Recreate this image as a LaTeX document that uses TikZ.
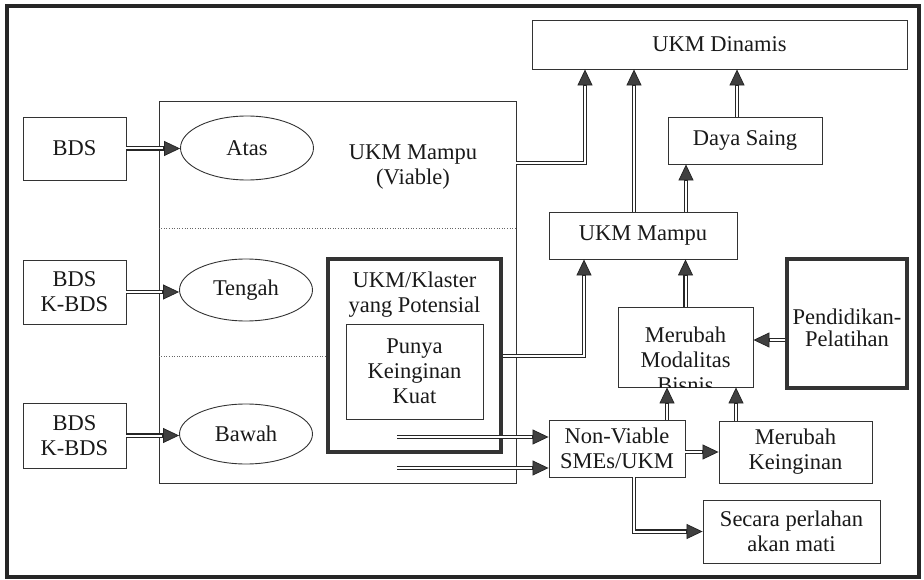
\documentclass[tikz,border=0pt]{standalone}
\usepackage{fontspec}
\setmainfont{Liberation Serif}
\usetikzlibrary{arrows.meta,calc,shapes.geometric}
\begin{document}
\begin{tikzpicture}[x=1pt,y=-1pt,
  box/.style={draw=black!80, line width=0.9pt, inner sep=0pt, align=center,
    font=\fontsize{22.5}{25}\selectfont, text=black!90},
  thickbox/.style={box, line width=3.5pt},
  ell/.style={box, ellipse},
  txt/.style={inner sep=0pt, align=center, font=\fontsize{22.5}{25}\selectfont, text=black!90},
  dbl/.style={draw=black!85, line width=0.8pt, line join=miter,
    -{Triangle[length=16pt,width=15pt,fill=black!75]},
    preaction={draw=black!85, line width=4.4pt, shorten >=10pt, -},
    postaction={draw=white, line width=2.0pt, shorten >=16.6pt, -}},
  dotsep/.style={draw=black!60, line width=0.6pt, dotted}]
\useasboundingbox (0,0) rectangle (924,580);
% outer frame
\draw[line width=3.5pt, black!85] (7,6) rectangle (919,577);

% container
\node[box, minimum width=357pt, minimum height=382pt] (big) at (337.5,292) {};
\node[txt] (viabletxt) at (413,167) {UKM Mampu\\(Viable)};
\draw[dotsep] (big.west |- 0,228) -- (big.east |- 0,228);

% left boxes
\node[box, minimum width=103pt, minimum height=63pt] (bds1) at (74.5,148.5) {BDS};
\node[box, minimum width=103pt, minimum height=64pt] (bds2) at (74.5,292) {BDS\\K-BDS};
\node[box, minimum width=103pt, minimum height=65pt] (bds3) at (74.5,435.5) {BDS\\K-BDS};

% ellipses
\node[ell, minimum width=133pt, minimum height=64pt] (atas) at (247,148) {Atas};
\node[ell, minimum width=133pt, minimum height=62pt] (tengah) at (246,290) {Tengah};
\node[ell, minimum width=133pt, minimum height=60pt] (bawah) at (246,434) {Bawah};

% klaster
\node[thickbox, minimum width=173pt, minimum height=193pt] (klaster) at (414.5,355.5) {};
\node[txt] (klastertxt) at (414.5,294.5) {UKM/Klaster\\yang Potensial};
\node[box, minimum width=137pt, minimum height=95pt] (punya) at (414.5,371.5) {Punya\\Keinginan\\Kuat};
\draw[dotsep] (big.west |- 0,356) -- (klaster.west |- 0,356);

% right side
\node[box, minimum width=375pt, minimum height=49pt] (dinamis) at (719.5,44.5) {UKM Dinamis};
\node[box, minimum width=154pt, minimum height=47pt] (daya) at (745,140.5) {Daya Saing};
\node[box, minimum width=188pt, minimum height=47pt] (mampu) at (643,235.5) {UKM Mampu};
\node[box, minimum width=135pt, minimum height=80pt] (modal) at (685.5,347) {};
\begin{scope}
  \clip (modal.south west) rectangle (modal.north east);
  \node[txt] (modaltxt) at ($(modal.center)+(0,13)$) {Merubah\\Modalitas\\Bisnis};
\end{scope}
\node[thickbox, minimum width=120pt, minimum height=129pt] (pend) at (847,323.5) {};
\node[txt, font=\fontsize{22.5}{22}\selectfont] (pendtxt) at (847,328) {Pendidikan-\\Pelatihan};
\node[box, minimum width=136pt, minimum height=57pt] (nonv) at (617,448.5) {Non-Viable\\SMEs/UKM};
\node[box, minimum width=153pt, minimum height=62pt] (kein) at (795.5,452) {Merubah\\Keinginan};
\node[box, minimum width=177pt, minimum height=63pt] (secara) at (791.5,531.5) {Secara perlahan\\akan mati};

% free starts
\coordinate (s1) at (397,437);
\coordinate (s2) at (397,468);

% arrows
\draw[dbl] (bds1.east) -- (bds1.east -| atas.west);
\draw[dbl] (bds2.east) -- (bds2.east -| tengah.west);
\draw[dbl] (bds3.east) -- (bds3.east -| bawah.west);
\draw[dbl] (big.east |- 0,163) -| (dinamis.south -| 585,0);
\draw[dbl] (mampu.north -| 634,0) -- (dinamis.south -| 634,0);
\draw[dbl] (daya.north -| 737,0) -- (dinamis.south -| 737,0);
\draw[dbl] (mampu.north -| 686,0) -- (daya.south -| 686,0);
\draw[dbl] (klaster.east |- 0,356) -| (mampu.south -| 584,0);
\draw[dbl] (modal.north) -- (mampu.south -| modal.north);
\draw[dbl] (pend.west |- 0,340) -- (modal.east |- 0,340);
\draw[dbl] (nonv.north -| 667,0) -- (modal.south -| 667,0);
\draw[dbl] (kein.north -| 736,0) -- (modal.south -| 736,0);
\draw[dbl] (nonv.east |- 0,452) -- (kein.west |- 0,452);
\draw[dbl] (nonv.south -| 634,0) |- (secara.west);
\draw[dbl] (s1) -- (nonv.west |- s1);
\draw[dbl] (s2) -- (nonv.west |- s2);
\end{tikzpicture}
\end{document}
